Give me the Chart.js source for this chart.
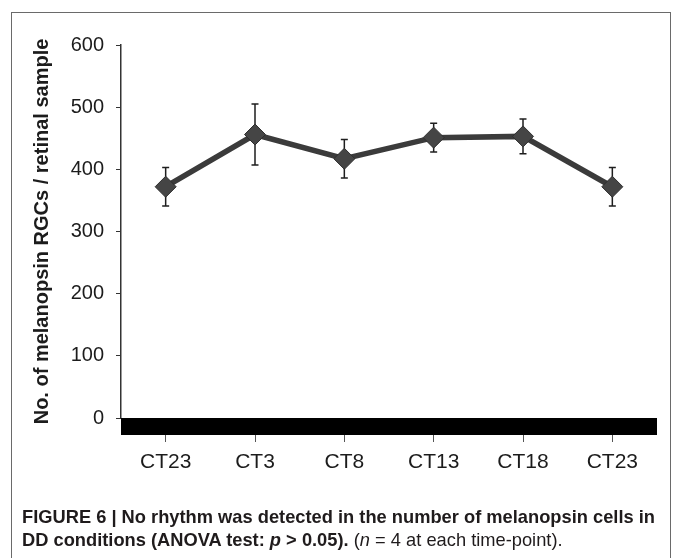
<!DOCTYPE html>
<html>
<head>
<meta charset="utf-8">
<script src="https://cdn.jsdelivr.net/npm/chart.js@4.4.1/dist/chart.umd.min.js"></script>
<style>
html,body{margin:0;padding:0;background:#fff;}
#wrap{position:relative;width:673px;height:558px;overflow:hidden;background:#fff;}
#frame{position:absolute;left:11px;top:12px;width:660px;height:600px;border:1px solid #6a6a6a;box-sizing:border-box;}
#c{position:absolute;left:0;top:0;}
#cap{position:absolute;left:22px;top:505px;font-family:"Liberation Sans",Arial,sans-serif;font-size:18.5px;line-height:23px;color:#1f1b1c;white-space:nowrap;transform-origin:0 0;}
#cap b{font-weight:bold;}
</style>
</head>
<body>
<div id="wrap">
  <div id="frame"></div>
  <canvas id="c" width="673" height="558"></canvas>
  <div id="cap"><span id="l1"><b>FIGURE 6 | No rhythm was detected in the number of melanopsin cells in</b></span><br><span id="l2"><b>DD conditions (ANOVA test: <i>p</i> &gt; 0.05).</b> (<i>n</i> = 4 at each time-point).</span></div>
</div>
<script>
// ---- data ----
const categories = ['CT23', 'CT3', 'CT8', 'CT13', 'CT18', 'CT23'];
const meanCounts = [372, 456, 417, 451, 453, 372];
const semCounts  = [31, 49, 31, 23, 28, 31];
const yTicks = [0, 100, 200, 300, 400, 500, 600];
const yTitle = 'No. of melanopsin RGCs / retinal sample';

const FONT = '"Liberation Sans", Arial, Helvetica, sans-serif';

const decorPlugin = {
  id: 'decor',
  beforeDatasetsDraw(chart) {
    const {ctx, chartArea, scales} = chart;
    const y = scales.y, x = scales.x;
    const y0 = y.getPixelForValue(0);
    ctx.save();
    // thick black baseline band
    ctx.fillStyle = '#000';
    ctx.fillRect(chartArea.left, y0, chartArea.right - chartArea.left, 17);
    // error bars
    ctx.strokeStyle = '#1e1e1e';
    ctx.lineWidth = 1.5;
    meanCounts.forEach((m, i) => {
      const px = x.getPixelForValue(i);
      const top = y.getPixelForValue(m + semCounts[i]);
      const bot = y.getPixelForValue(m - semCounts[i]);
      ctx.beginPath();
      ctx.moveTo(px, top); ctx.lineTo(px, bot);
      ctx.moveTo(px - 3.5, top); ctx.lineTo(px + 3.5, top);
      ctx.moveTo(px - 3.5, bot); ctx.lineTo(px + 3.5, bot);
      ctx.stroke();
    });
    ctx.restore();
  }
};

new Chart(document.getElementById('c'), {
  type: 'line',
  data: {
    labels: categories,
    datasets: [{
      data: meanCounts,
      borderColor: '#3b3b3b',
      borderWidth: 5.5,
      pointStyle: 'rectRot',
      pointRadius: 10.5,
      pointBackgroundColor: '#454545',
      pointBorderColor: '#2e2e2e',
      pointBorderWidth: 1,
      tension: 0,
      fill: false
    }]
  },
  options: {
    responsive: false,
    animation: false,
    events: [],
    layout: {padding: {left: 0, right: 16, top: 45, bottom: 80}},
    plugins: {legend: {display: false}, tooltip: {enabled: false}},
    scales: {
      x: {
        type: 'category',
        offset: true,
        afterFit(s) { s.height = 60; },
        grid: {display: true, drawOnChartArea: false, offset: false, tickLength: 24, color: '#555', lineWidth: 1},
        border: {display: false},
        ticks: {color: '#1c1c1c', padding: 8, font: {family: FONT, size: 21}}
      },
      y: {
        min: 0, max: 600,
        afterFit(s) { s.width = 121; },
        afterBuildTicks(s) { s.ticks = yTicks.map(v => ({value: v})); },
        grid: {display: true, drawOnChartArea: false, tickLength: 5, color: '#333', lineWidth: 1},
        border: {display: true, color: '#333', width: 1.5},
        ticks: {color: '#1c1c1c', padding: 12, font: {family: FONT, size: 20}},
        title: {display: true, text: yTitle, color: '#1c1c1c', padding: {top: 30, bottom: 0}, font: {family: FONT, size: 20, weight: 'bold'}}
      }
    }
  },
  plugins: [decorPlugin]
});

// fit caption lines to the reference width
(function(){
  const cap = document.getElementById('cap');
  const w = document.getElementById('l1').getBoundingClientRect().width;
  if (w > 0) cap.style.transform = 'scaleX(' + (633 / w) + ')';
})();
</script>
</body>
</html>
